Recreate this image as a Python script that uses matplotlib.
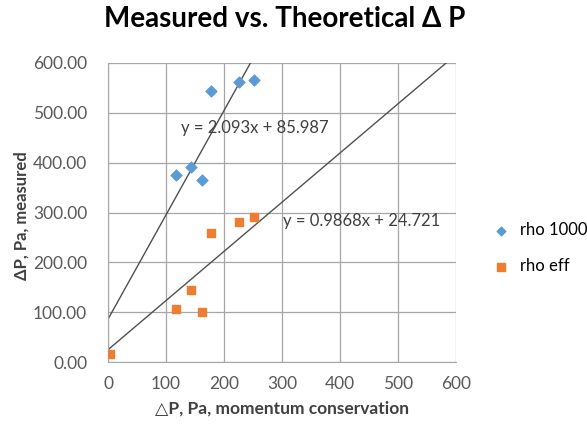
import numpy as np
import matplotlib
matplotlib.use("Agg")
import matplotlib.pyplot as plt

plt.rcParams['font.family'] = ['Lato', 'DejaVu Sans']

# data
x_theory = [116.5, 142.5, 162, 177.5, 226.3, 251]
rho_1000 = [376, 391, 366, 543, 562, 566]
x_theory_eff = [3.4, 116.5, 142.5, 162, 177.5, 226.3, 251]
rho_eff = [17, 107, 144, 101, 259, 280, 290]

# trendline coefficients (slope, intercept) as labelled
fit_1000 = (2.093, 85.987)
fit_eff = (0.9868, 24.721)

blue = '#5B9BD5'
orange = '#ED7D31'
grid_c = '#A6A6A6'

fig = plt.figure(figsize=(5.87, 4.28), dpi=100)
ax = fig.add_axes([0.184, 0.154, 0.593, 0.699])

ax.scatter(x_theory, rho_1000, marker='D', s=30, color=blue, label='rho 1000', zorder=3)
ax.scatter(x_theory_eff, rho_eff, marker='s', s=40, color=orange, label='rho eff', zorder=3)

xx = np.array([0, 600])
ax.plot(xx, fit_1000[0] * xx + fit_1000[1], color='#505050', lw=1, zorder=2)
ax.plot(xx, fit_eff[0] * xx + fit_eff[1], color='#505050', lw=1, zorder=2)

ax.text(126, 470, 'y = 2.093x + 85.987', fontsize=12, va='center', color='#404040')
ax.text(302, 282, 'y = 0.9868x + 24.721', fontsize=12, va='center', color='#404040')

ax.set_xlim(0, 600)
ax.set_ylim(0, 600)
ax.set_xticks(range(0, 601, 100))
ax.set_yticks(range(0, 601, 100))
ax.set_yticklabels([f'{v:.2f}' for v in range(0, 601, 100)])
ax.tick_params(length=0, labelsize=12.5, labelcolor='#595959')
ax.tick_params(axis='y', pad=15)
ax.tick_params(axis='x', pad=10)
ax.grid(True, color=grid_c, lw=0.9)
ax.set_axisbelow(True)
for s in ['top', 'right']:
    ax.spines[s].set_visible(False)
for s in ['left', 'bottom']:
    ax.spines[s].set_color(grid_c)

ax.set_xlabel('△P, Pa, momentum conservation', fontsize=12.5, fontweight='bold',
              color='#404040', labelpad=6)
ax.set_ylabel('ΔP, Pa, measured', fontsize=12, fontweight='bold', color='#404040')
ax.yaxis.set_label_coords(-0.225, 0.49)
fig.suptitle('Measured vs. Theoretical Δ P', fontsize=20, fontweight='bold', x=0.485, y=0.985)

fig.legend(loc='center left', bbox_to_anchor=(0.8, 0.42), frameon=False, fontsize=12,
           handletextpad=0.1, labelspacing=1.2, markerscale=0.8)

fig.savefig('out.png', dpi=100)
